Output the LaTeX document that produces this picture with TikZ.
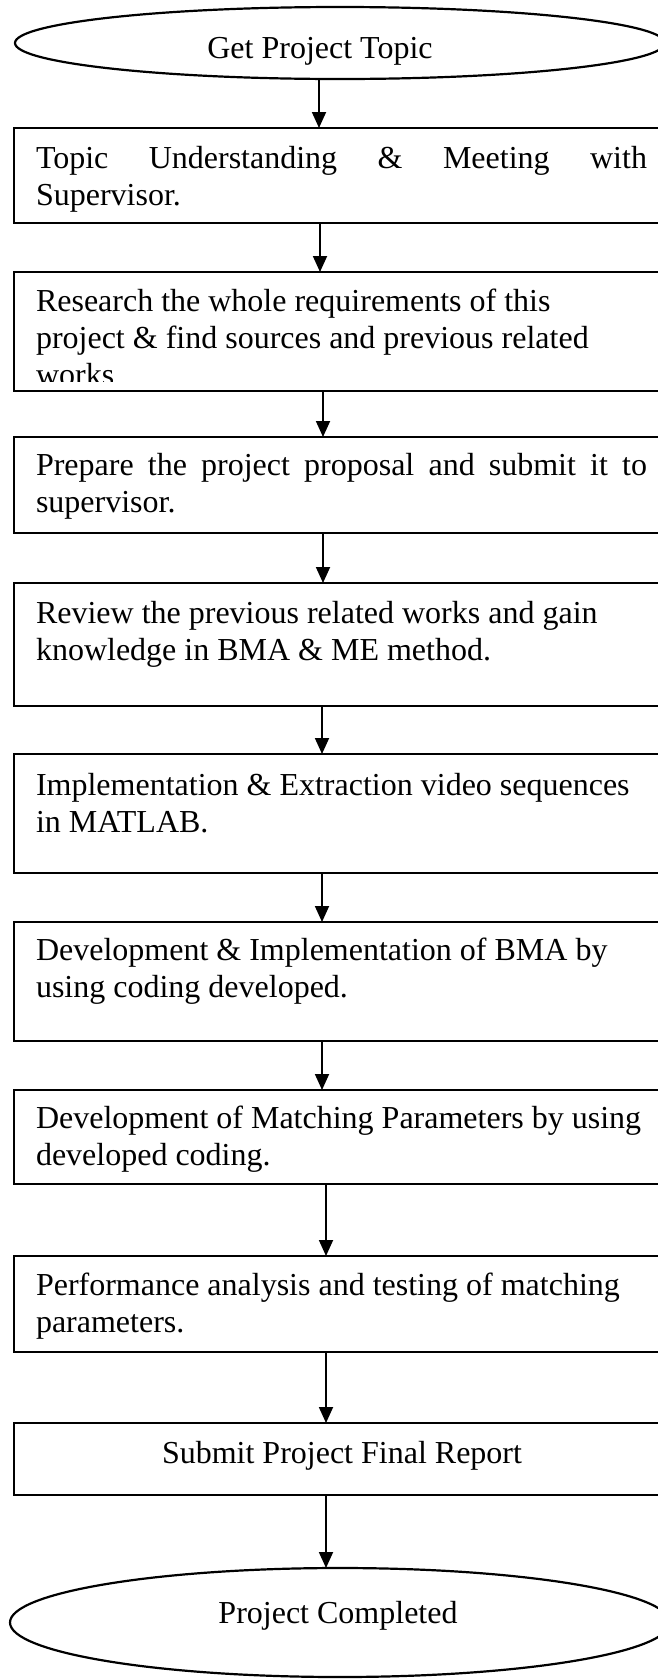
\documentclass[tikz,border=0pt]{standalone}
\usepackage{fontspec}
\setmainfont{Liberation Serif}
\usetikzlibrary{shapes.geometric,arrows.meta}

\tikzset{
  stepbox/.style={draw, line width=2.2pt, rectangle, anchor=north west,
    minimum width=656pt, inner sep=0pt, outer sep=0pt},
  termnode/.style={draw, line width=2.2pt, ellipse, inner sep=0pt, outer sep=0pt},
  txt/.style={inner sep=0pt, outer sep=0pt, anchor=base west,
    font=\fontsize{32}{37}\selectfont},
  ctxt/.style={txt, anchor=base},
  flow/.style={line width=1.8pt, -{Triangle[length=16pt,width=14pt]}}
}

\begin{document}
\begin{tikzpicture}[x=1pt, y=-1pt]
\useasboundingbox (0,0) rectangle (658,1679);
\fill[white] (0,0) rectangle (658,1679);

% start and end terminals
\node[termnode, minimum width=650pt, minimum height=72pt] (start) at (340,43) {};
\node[ctxt] (starttext) at (320,58) {Get Project Topic};

% process steps
\node[stepbox, minimum height=95pt]  (b1) at (14,128)  {};
\node[stepbox, minimum height=119pt] (b2) at (14,272)  {};
\node[stepbox, minimum height=96pt]  (b3) at (14,437)  {};
\node[stepbox, minimum height=123pt] (b4) at (14,583)  {};
\node[stepbox, minimum height=119pt] (b5) at (14,754)  {};
\node[stepbox, minimum height=119pt] (b6) at (14,922)  {};
\node[stepbox, minimum height=94pt]  (b7) at (14,1090) {};
\node[stepbox, minimum height=96pt]  (b8) at (14,1256) {};
\node[stepbox, minimum height=72pt]  (b9) at (14,1423) {};

\node[termnode, minimum width=660pt, minimum height=109pt] (finish) at (340,1622.5) {};
\node[ctxt] (finishtext) at (338,1623) {Project Completed};

% step texts
\node[txt] (t1a) at (36,168) {\makebox[611pt][s]{Topic Understanding \& Meeting with}};
\node[txt] (t1b) at (36,205) {Supervisor.};

\node[txt] (t2a) at (36,311) {Research the whole requirements of this};
\node[txt] (t2b) at (36,348) {project \& find sources and previous related};
\begin{scope}
  \clip (0,300) rectangle (658,381);
  \node[txt] (t2c) at (36,385) {works};
\end{scope}

\node[txt] (t3a) at (36,475) {\makebox[611pt][s]{Prepare the project proposal and submit it to}};
\node[txt] (t3b) at (36,512) {supervisor.};

\node[txt] (t4a) at (36,623) {Review the previous related works and gain};
\node[txt] (t4b) at (36,660) {knowledge in BMA \& ME method.};

\node[txt] (t5a) at (36,795) {Implementation \& Extraction video sequences};
\node[txt] (t5b) at (36,832) {in MATLAB.};

\node[txt] (t6a) at (36,960) {Development \& Implementation of BMA by};
\node[txt] (t6b) at (36,997) {using coding developed.};

\node[txt] (t7a) at (36,1128) {Development of Matching Parameters by using};
\node[txt] (t7b) at (36,1165) {developed coding.};

\node[txt] (t8a) at (36,1295) {Performance analysis and testing of matching};
\node[txt] (t8b) at (36,1332) {parameters.};

\node[ctxt] (t9) at (342,1463) {Submit Project Final Report};

% connector columns
\coordinate (c1) at (319,0);
\coordinate (c2) at (320,0);
\coordinate (c3) at (323,0);
\coordinate (c4) at (322,0);
\coordinate (c5) at (326,0);

% connectors
\draw[flow] (start.south -| c1) -- (b1.north -| c1);
\draw[flow] (b1.south -| c2) -- (b2.north -| c2);
\draw[flow] (b2.south -| c3) -- (b3.north -| c3);
\draw[flow] (b3.south -| c3) -- (b4.north -| c3);
\draw[flow] (b4.south -| c4) -- (b5.north -| c4);
\draw[flow] (b5.south -| c4) -- (b6.north -| c4);
\draw[flow] (b6.south -| c4) -- (b7.north -| c4);
\draw[flow] (b7.south -| c5) -- (b8.north -| c5);
\draw[flow] (b8.south -| c5) -- (b9.north -| c5);
\draw[flow] (b9.south -| c5) -- (finish.north -| c5);
\end{tikzpicture}
\end{document}
